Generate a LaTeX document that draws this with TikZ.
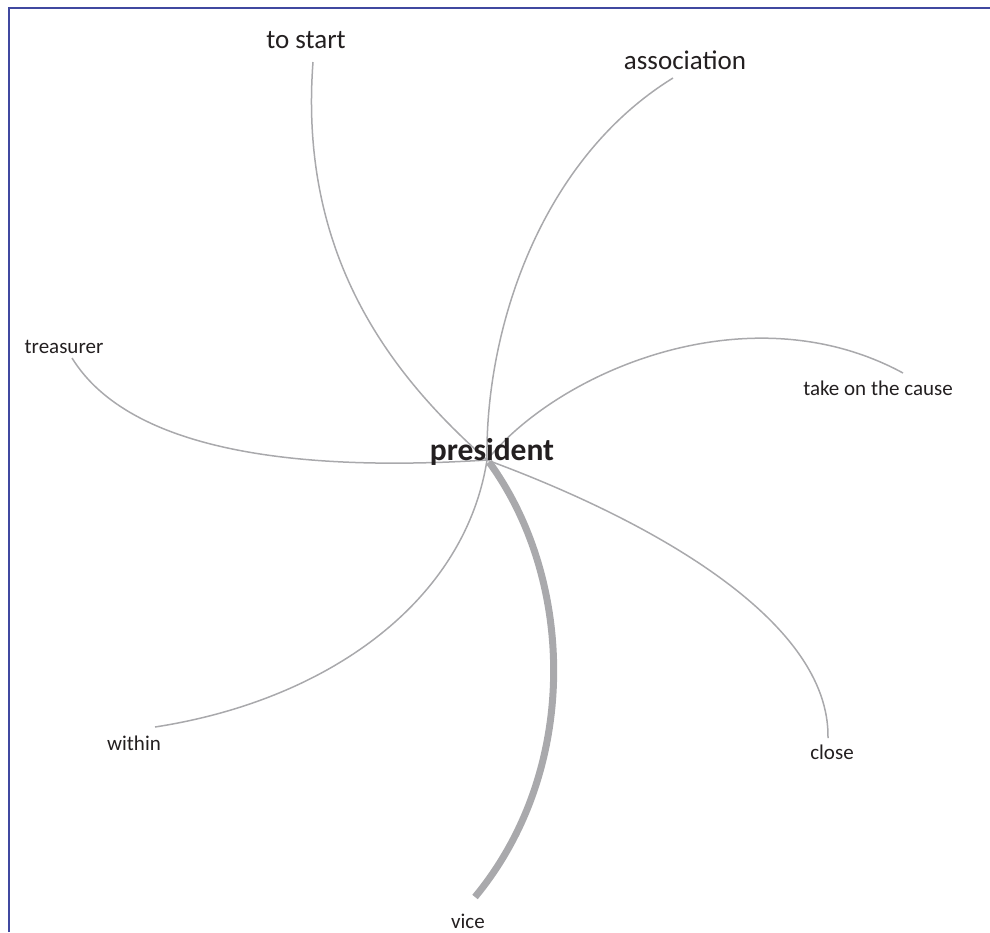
\documentclass[tikz,border=0pt]{standalone}
\usepackage{fontspec}
\setmainfont{Carlito}
\definecolor{framec}{HTML}{4048A0}
\definecolor{linkc}{HTML}{A9A9AC}
\definecolor{txt}{HTML}{231F20}
\begin{document}
\begin{tikzpicture}[x=1pt,y=-1pt,
  link/.style={draw=linkc,line width=1.5pt},
  strong/.style={draw=linkc,line width=7pt},
  lbl/.style={text=txt,inner sep=0pt,font=\fontsize{21}{25}\selectfont},
  biglbl/.style={text=txt,inner sep=0pt,font=\fontsize{27}{31}\selectfont},
  hub/.style={text=txt,inner sep=0pt,font=\fontsize{31.5}{35}\selectfont\bfseries}]
\useasboundingbox (0,0) rectangle (990,932);
\draw[framec,line width=2pt] (9,932) -- (9,8) -- (990,8);
% end points
\coordinate (c) at (487,460);
\coordinate (eStart) at (313,62);
\coordinate (eAssoc) at (673,78);
\coordinate (eCause) at (903,373);
\coordinate (eClose) at (828,738);
\coordinate (eVice) at (475,897);
\coordinate (eWithin) at (155,727);
\coordinate (eTreas) at (72,358);
% curves
\draw[link] (eStart) .. controls (298,262) and (397,380) .. (c);
\draw[link] (eAssoc) .. controls (540,160) and (485,330) .. (c);
\draw[link] (c) .. controls (560,370) and (750,290) .. (eCause);
\draw[link] (c) .. controls (650,520) and (830,620) .. (eClose);
\draw[link] (c) .. controls (465,600) and (330,700) .. (eWithin);
\draw[link] (eTreas) .. controls (130,452) and (300,472) .. (c);
\draw[strong] (489,462) .. controls (575,580) and (580,770) .. (eVice);
% labels
\node[hub] (president) at (492,452) {president};
\node[biglbl] (tostart) at (306,40) {to start};
\node[biglbl] (association) at (685,60) {association};
\node[lbl] (cause) at (878,388) {take on the cause};
\node[lbl] (treasurer) at (64,347) {treasurer};
\node[lbl] (within) at (134,743) {within};
\node[lbl] (close) at (832,752) {close};
\node[lbl] (vice) at (468,921) {vice};
\end{tikzpicture}
\end{document}
